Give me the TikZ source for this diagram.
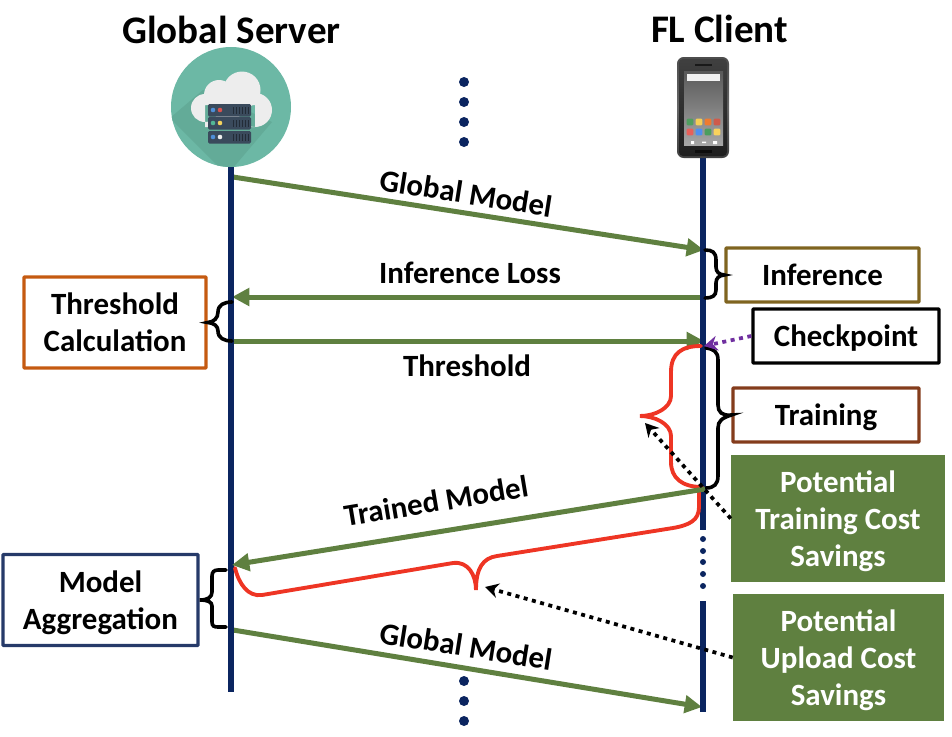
\documentclass[tikz,border=0pt]{standalone}
\usepackage{fontspec}
\setmainfont{Carlito}
\usetikzlibrary{arrows.meta,calc}
\definecolor{flgreen}{HTML}{5F8040}
\definecolor{navyline}{HTML}{0B2560}
\definecolor{redbrace}{HTML}{EE3524}
\definecolor{purpledot}{HTML}{7030A0}
\definecolor{tealc}{HTML}{6CB8A5}
\definecolor{tealdark}{HTML}{63AB98}
\definecolor{rack}{HTML}{3A4A5C}
\definecolor{infb}{HTML}{7F6420}
\definecolor{trnb}{HTML}{843C1C}
\definecolor{thrb}{HTML}{C55A11}
\definecolor{aggb}{HTML}{263A69}
\newcommand{\lowr}{\rule{0pt}{20pt}}
\tikzset{
  txt/.style={font=\fontsize{23.2}{27.75}\selectfont\bfseries,inner sep=0pt,align=center},
  titletxt/.style={font=\fontsize{29.3}{32}\selectfont\bfseries,inner sep=0pt},
  whitetxt/.style={txt,text=white,fill=flgreen},
  frame/.style={txt,draw=#1,line width=2.6pt,rounded corners=0.6pt,fill=white},
  msg/.style={draw=flgreen,line width=3.75pt,-{Triangle[length=13pt,width=13pt]}},
  life/.style={draw=navyline,line width=3.9pt},
  bracek/.style={draw=black,line width=2.7pt,line cap=round},
  bracer/.style={draw=redbrace,line width=2.9pt,line cap=round},
  dotarrow/.style={draw=black,line width=2.8pt,dash pattern=on 3pt off 3.4pt,-{Stealth[length=10pt,width=11pt]}},
  purplearrow/.style={draw=purpledot,line width=2.8pt,dash pattern=on 3pt off 3.4pt,-{Stealth[length=10pt,width=11pt]}},
  navydot/.style={fill=navyline,draw=none},
}
\begin{document}
\begin{tikzpicture}[x=0.75pt,y=-0.75pt]
\useasboundingbox (0,0) rectangle (952,736);
% titles
\node[titletxt] (gs) at (231.5,30) {Global Server};
\node[titletxt] (fc) at (719.5,29) {FL Client};
% coordinates
\coordinate (Ltop) at (231,160);
\coordinate (Lbot) at (231,692);
\coordinate (Rtop) at (703,155);
\coordinate (Rmid) at (703,530);
\coordinate (Rlow) at (703,601);
\coordinate (Rbot) at (703,712);
\coordinate (g1s) at (233,177);
\coordinate (g1e) at (704,250);
\coordinate (ils) at (701,297);
\coordinate (ile) at (232,297);
\coordinate (ths) at (233,341);
\coordinate (the) at (704,341);
\coordinate (tms) at (705,489);
\coordinate (tme) at (232,565);
\coordinate (g2s) at (233,630);
\coordinate (g2e) at (702,707);
% vertical dots
\foreach \y in {82,102,122,142} \fill[navydot] (464,\y) circle (5);
\foreach \y in {681,701,721} \fill[navydot] (464,\y) circle (5);
\foreach \y in {527,539,551,562,574,586} \fill[navydot] (703,\y) circle (3);
% messages under lifelines
\draw[msg] (g1s) -- (g1e);
\draw[msg] (ils) -- (ile);
\draw[msg] (ths) -- (the);
\draw[msg] (g2s) -- (g2e);
% lifelines
\draw[life] (Ltop) -- (Lbot);
\draw[life] (Rtop) -- (Rmid);
\draw[life] (Rlow) -- (Rbot);
% cloud icon
\fill[tealc] (231,107) circle (60);
\begin{scope}
\clip (231,107) circle (60);
\fill[tealdark] (203,90) -- (170,118) -- (227,175) -- (272,122) -- cycle;
\end{scope}
\fill[white!93!black] (205,108) circle (14) (219,95) circle (15) (242,90) circle (18.5) (255,110) circle (17) (205,105) rectangle (255,127);
\foreach \a/\b/\c/\d in {104/116/4F8FD8/D9534F,117/129/52B795/F4D35E,131/143/4F8FD8/EEEEEE}{
  \definecolor{dotA}{HTML}{\c}\definecolor{dotB}{HTML}{\d}
  \fill[rack,rounded corners=1pt] (208,\a) rectangle (251,\b+0.5);
  \fill[dotA] (213,\a/2+\b/2) circle (2.3);
  \fill[dotB] (220,\a/2+\b/2) circle (2.3);
  \foreach \x in {233,236,239,242,245,248} \draw[rack!60!black,line width=0.5pt] (\x,\a+3) -- (\x,\b-2);
}
% phone icon
\shade[top color=black!70,bottom color=black!75,middle color=black!60,rounded corners=5pt] (677,57) rectangle (729,158);
\shade[top color=black!75,bottom color=black!88,rounded corners=3pt] (679,59) rectangle (727,156);
\shade[top color=black!65,bottom color=black!35] (684,71) rectangle (723,145);
\fill[white!95!black] (687,74) rectangle (720,81);
\fill[black!90] (695,64) rectangle (712,66);
\fill[black!95] (695,150) rectangle (712,152.5);
\foreach \x/\y/\c in {690/122/4F9E5F,699/122/F5CE56,708/122/EE7B30,717/122/CF5B4B,690/132/E8605A,699/132/4F8FEF,708/132/4B9E5E,717/132/F8D25C}{
  \definecolor{appc}{HTML}{\c}
  \fill[appc,rounded corners=0.8pt] (\x-3.3,\y-3.3) rectangle (\x+3.3,\y+3.3);
}
\fill[white] (691,141) rectangle (694,144) (702,141.5) rectangle (706,143) (713,141) rectangle (717,144);
% boxes
\node[frame=infb,minimum width=144.75pt,minimum height=40.5pt] (inf) at (822.5,275) {Inference};
\node[frame=black,minimum width=139.5pt,minimum height=40.5pt] (chk) at (846,336) {\lowr Checkpoint};
\node[frame=trnb,minimum width=139.5pt,minimum height=40.5pt] (trn) at (826,415) {\lowr Training};
\node[frame=thrb,minimum width=136.5pt,minimum height=68.25pt] (thr) at (115,322.5) {Threshold\\Calculation};
\node[frame=aggb,minimum width=146.25pt,minimum height=68.25pt] (agg) at (100.5,600) {\lowr Model\\Aggregation};
\node[whitetxt,minimum width=160.5pt,minimum height=95.25pt] (pt) at (838,518.5) {\lowr Potential\\Training Cost\\Savings};
\node[whitetxt,minimum width=158.25pt,minimum height=95.25pt] (pu) at (838.5,657.5) {\lowr Potential\\Upload Cost\\Savings};
% labels
\node[txt,rotate=-9] (l1) at (466,193) {Global Model};
\node[txt] (l2) at (470,273) {Inference Loss};
\node[txt] (l3) at (467,366) {Threshold};
\node[txt,rotate=9.5] (l4) at (436,501) {Trained Model};
\node[txt,rotate=-9] (l5) at (466,646) {Global Model};
% black braces
\coordinate (bi1) at (705,250);
\coordinate (bi2) at (705,298);
\draw[bracek] (bi1) .. controls (712,250) and (716,252) .. (716,260) -- (716,267) .. controls (716,272) and (719,274.5) .. (inf.west) .. controls (719,275.5) and (716,278) .. (716,283) -- (716,290) .. controls (716,296) and (712,298) .. (bi2);
\coordinate (bt1) at (706,348);
\coordinate (bt2) at (706,488);
\draw[bracek] (bt1) .. controls (714,349) and (718,352) .. (718,360) -- (718,405) .. controls (718,412) and (722,416) .. (trn.west) .. controls (722,418) and (718,421) .. (718,428) -- (718,476) .. controls (718,484) and (714,488) .. (bt2);
\coordinate (bh1) at (232,302);
\coordinate (bh2) at (232,341);
\draw[bracek] (bh1) .. controls (224,302) and (218,305) .. (218,312) .. controls (218,318) and (214,322) .. (thr.east) .. controls (214,323) and (218,326) .. (218,331) .. controls (218,338) and (224,341) .. (bh2);
\coordinate (ba1) at (226,570);
\coordinate (ba2) at (226,627);
\draw[bracek] (ba1) -- (218,570) .. controls (214,570) and (212,572) .. (212,576) -- (212,592) .. controls (212,597) and (208,600) .. (agg.east) .. controls (208,600) and (212,602) .. (212,606) -- (212,622) .. controls (212,626) and (214,627) .. (218,627) -- (ba2);
% red braces
\coordinate (rv1) at (701,346);
\coordinate (rv2) at (702,487);
\coordinate (rvt) at (640,416);
\draw[bracer] (rv1) .. controls (682,346) and (671,353) .. (671,372) -- (671,396) .. controls (671,408) and (655,416) .. (rvt) .. controls (655,416) and (671,424) .. (671,436) -- (671,462) .. controls (671,478) and (682,487) .. (rv2);
\coordinate (rs1) at (699,492);
\coordinate (rst) at (476,590);
\coordinate (rs2) at (235,568);
\draw[bracer] (rs1) -- (699,507) .. controls (699,520) and (690,525) .. (673,528) -- (497,556) .. controls (483,558) and (476,568) .. (rst) .. controls (476,575) and (468,561) .. (453,563) -- (262,595) .. controls (248,597) and (239,584) .. (rs2);
% trained model arrow on top
\draw[msg] (tms) -- (tme);
% dotted arrows
\coordinate (da1) at (645,423);
\coordinate (da2) at (485,587);
\coordinate (da3) at (704,346);
\draw[dotarrow] (pt.west) -- (da1);
\draw[dotarrow] (pu.west) -- (da2);
\draw[purplearrow] (chk.west) -- (da3);
\end{tikzpicture}
\end{document}
